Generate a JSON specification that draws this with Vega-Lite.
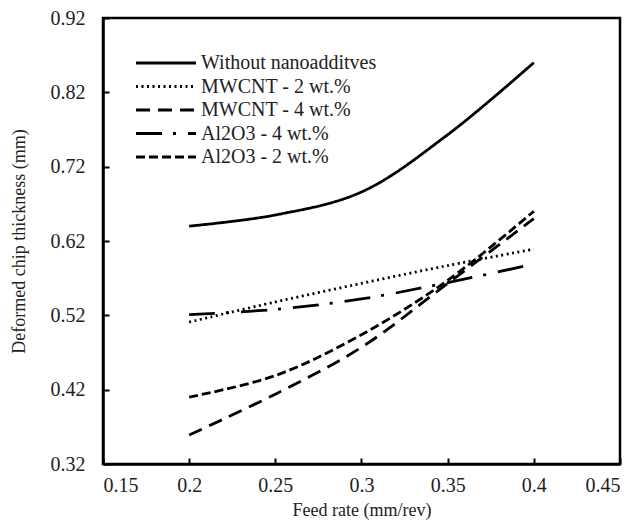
{
  "$schema": "https://vega.github.io/schema/vega-lite/v6.json",
  "width": 517,
  "height": 446,
  "autosize": "none",
  "padding": {"left": 103, "top": 18, "right": 20, "bottom": 66},
  "background": "white",
  "config": {
    "font": "Liberation Serif",
    "view": {"stroke": "black", "strokeWidth": 2.5},
    "axis": {"domainColor": "black", "domainWidth": 2.5, "tickColor": "black", "tickWidth": 2, "grid": false, "labelFont": "Liberation Serif", "titleFont": "Liberation Serif", "labelColor": "#222", "titleColor": "#222", "titleFontWeight": "normal"}
  },
  "data": {
    "values": [
      {"feed": 0.2, "t": 0.640, "s": "Without nanoadditves"},
      {"feed": 0.25, "t": 0.655, "s": "Without nanoadditves"},
      {"feed": 0.3, "t": 0.686, "s": "Without nanoadditves"},
      {"feed": 0.35, "t": 0.763, "s": "Without nanoadditves"},
      {"feed": 0.4, "t": 0.860, "s": "Without nanoadditves"},
      {"feed": 0.2, "t": 0.511, "s": "MWCNT - 2 wt.%"},
      {"feed": 0.25, "t": 0.538, "s": "MWCNT - 2 wt.%"},
      {"feed": 0.3, "t": 0.563, "s": "MWCNT - 2 wt.%"},
      {"feed": 0.35, "t": 0.587, "s": "MWCNT - 2 wt.%"},
      {"feed": 0.4, "t": 0.609, "s": "MWCNT - 2 wt.%"},
      {"feed": 0.2, "t": 0.359, "s": "MWCNT - 4 wt.%"},
      {"feed": 0.25, "t": 0.414, "s": "MWCNT - 4 wt.%"},
      {"feed": 0.3, "t": 0.477, "s": "MWCNT - 4 wt.%"},
      {"feed": 0.35, "t": 0.563, "s": "MWCNT - 4 wt.%"},
      {"feed": 0.4, "t": 0.650, "s": "MWCNT - 4 wt.%"},
      {"feed": 0.2, "t": 0.521, "s": "Al2O3 - 4 wt.%"},
      {"feed": 0.25, "t": 0.528, "s": "Al2O3 - 4 wt.%"},
      {"feed": 0.3, "t": 0.542, "s": "Al2O3 - 4 wt.%"},
      {"feed": 0.35, "t": 0.564, "s": "Al2O3 - 4 wt.%"},
      {"feed": 0.4, "t": 0.589, "s": "Al2O3 - 4 wt.%"},
      {"feed": 0.2, "t": 0.410, "s": "Al2O3 - 2 wt.%"},
      {"feed": 0.25, "t": 0.439, "s": "Al2O3 - 2 wt.%"},
      {"feed": 0.3, "t": 0.494, "s": "Al2O3 - 2 wt.%"},
      {"feed": 0.35, "t": 0.567, "s": "Al2O3 - 2 wt.%"},
      {"feed": 0.4, "t": 0.660, "s": "Al2O3 - 2 wt.%"}
    ]
  },
  "mark": {"type": "line", "interpolate": "catmull-rom", "color": "black", "strokeWidth": 2.8},
  "encoding": {
    "x": {
      "field": "feed", "type": "quantitative",
      "scale": {"domain": [0.15, 0.45], "nice": false, "zero": false},
      "axis": {"values": [0.15, 0.2, 0.25, 0.3, 0.35, 0.4, 0.45], "tickSize": -6, "labelPadding": 17, "labelFontSize": 20, "title": "Feed rate (mm/rev)", "titleFontSize": 18, "titlePadding": 6, "format": "~g"}
    },
    "y": {
      "field": "t", "type": "quantitative",
      "scale": {"domain": [0.32, 0.92], "nice": false, "zero": false},
      "axis": {"values": [0.32, 0.42, 0.52, 0.62, 0.72, 0.82, 0.92], "tickSize": -6, "labelPadding": 24, "labelFontSize": 20, "title": "Deformed chip thickness (mm)", "titleFontSize": 18, "titlePadding": 22, "format": ".2f"}
    },
    "strokeDash": {
      "field": "s", "type": "nominal",
      "scale": {
        "domain": ["Without nanoadditves", "MWCNT - 2 wt.%", "MWCNT - 4 wt.%", "Al2O3 - 4 wt.%", "Al2O3 - 2 wt.%"],
        "range": [[1, 0], [2, 3.5], [14, 8], [26, 11, 3, 12], [9, 4]]
      },
      "legend": {
        "orient": "none", "legendX": 53, "legendY": 35, "title": null,
        "symbolType": "M-6,0H6", "symbolSize": 100, "symbolStrokeWidth": 2.8, "symbolStrokeColor": "black",
        "labelFontSize": 20, "labelColor": "#222", "labelFont": "Liberation Serif", "rowPadding": 3.5, "labelOffset": 25, "labelLimit": 400
      }
    }
  }
}
